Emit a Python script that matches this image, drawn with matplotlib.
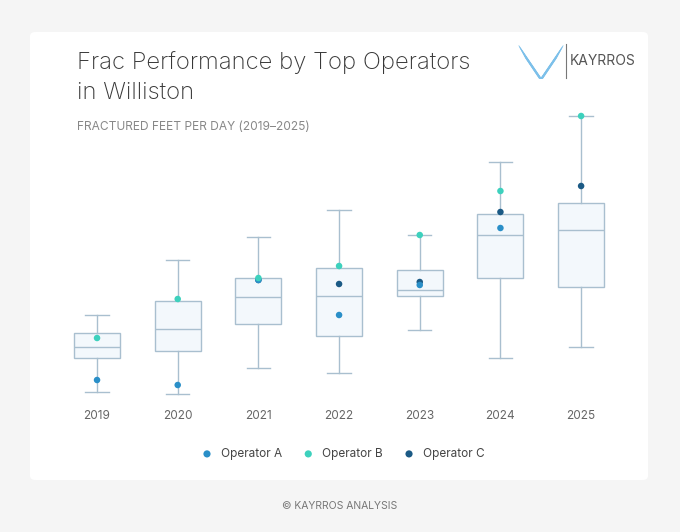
import matplotlib
matplotlib.use('Agg')
import matplotlib.pyplot as plt
from matplotlib.patches import FancyBboxPatch
import numpy as np

years = ['2019', '2020', '2021', '2022', '2023', '2024', '2025']
# fractured feet per day (relative units)
whis_lo = [28, 26, 52, 47, 90, 62, 73]
q1 = [62, 69, 96, 84, 124, 142, 133]
med = [73, 91, 123, 124, 130, 185, 190]
q3 = [87, 119, 142, 152, 150, 206, 217]
whis_hi = [105, 160, 183, 210, 185, 258, 304]
op_a = [40, 35, 140, 105, 135, 192, None]
op_b = [82, 121, 142, 154, 185, 229, 304]
op_c = [None, None, 140, 136, 138, 208, 234]

BG = '#f5f5f5'
EDGE = '#a9bfcf'
FILL = '#f3f8fc'
COL_A, COL_B, COL_C = '#2a8fc8', '#3dd1bd', '#1b5a85'

fig = plt.figure(figsize=(6.8, 5.32), dpi=100, facecolor=BG)
W, H = 680, 532
card = FancyBboxPatch((30 / W, 52 / H), 618 / W, 448 / H,
                      boxstyle='round,pad=0,rounding_size=0.008',
                      transform=fig.transFigure, facecolor='white', edgecolor='none', zorder=-10)
fig.patches.append(card)

fig.text(77 / W, 1 - 63 / H, 'Frac Performance by Top Operators', fontsize=17.2,
         color='#383838', va='center', family='Inter', fontweight='light')
fig.text(77 / W, 1 - 93 / H, 'in Williston', fontsize=17.2, color='#383838',
         va='center', family='Inter', fontweight='light')
fig.text(77 / W, 1 - 127 / H, 'FRACTURED FEET PER DAY (2019–2025)', fontsize=8.6,
         color='#888888', va='center', family='Inter')

# logo
lax = fig.add_axes([518 / W, 1 - 80 / H, 46 / W, 36 / H])
lax.axis('off')
for i in range(12):
    t = i / 11
    lax.plot([0.5 - 0.04 * t, 0.02 + 0.15 * t], [0.05, 0.95 - 0.35 * t], color='#7cc0ea', lw=0.6, alpha=0.8)
    lax.plot([0.5 + 0.04 * t, 0.98 - 0.15 * t], [0.05, 0.95 - 0.35 * t], color='#7cc0ea', lw=0.6, alpha=0.8)
lax.set_xlim(0, 1); lax.set_ylim(0, 1)
fig.add_artist(plt.Line2D([566 / W, 566 / W], [1 - 78 / H, 1 - 44 / H], color='#777777', lw=0.8))
fig.text(570 / W, 1 - 61 / H, 'KAYRROS', fontsize=10, color='#555555', va='center', family='Inter')

ax = fig.add_axes([40 / W, 1 - 400 / H, 600 / W, 290 / H])
ax.set_facecolor('none')
stats = [dict(whislo=whis_lo[i], q1=q1[i], med=med[i], q3=q3[i], whishi=whis_hi[i], fliers=[])
         for i in range(len(years))]
pos = np.arange(len(years))
ax.bxp(stats, positions=pos, widths=0.57, patch_artist=True,
       boxprops=dict(facecolor=FILL, edgecolor=EDGE, lw=1),
       medianprops=dict(color=EDGE, lw=1), whiskerprops=dict(color=EDGE, lw=1),
       capprops=dict(color=EDGE, lw=1), capwidths=0.29)
for vals, col, lab, z in [(op_a, COL_A, 'Operator A', 5), (op_b, COL_B, 'Operator B', 6),
                          (op_c, COL_C, 'Operator C', 4)]:
    xs = [p for p, v in zip(pos, vals) if v is not None]
    ys = [v for v in vals if v is not None]
    ax.scatter(xs, ys, s=22, color=col, zorder=z, label=lab, edgecolors='none')
ax.set_xlim(-0.707, 6.73)
ax.set_ylim(20, 310)
ax.set_xticks(pos, years)
ax.tick_params(length=0, pad=7, labelsize=8.5, labelcolor='#666666')
ax.set_yticks([])
for s in ax.spines.values():
    s.set_visible(False)
for t in ax.get_xticklabels():
    t.set_family('Inter')
leg = fig.legend(loc='center', bbox_to_anchor=(340 / W, 1 - 454 / H), ncol=3, frameon=False,
                 handletextpad=0.2, columnspacing=1.2, markerscale=1.1,
                 prop=dict(family='Inter', size=8.5))
for t in leg.get_texts():
    t.set_color('#444444')

fig.text(340 / W, 1 - 506 / H, '© KAYRROS ANALYSIS', fontsize=7.5, color='#777777',
         ha='center', va='center', family='Inter')

fig.savefig('out.png', dpi=100, facecolor=BG)
